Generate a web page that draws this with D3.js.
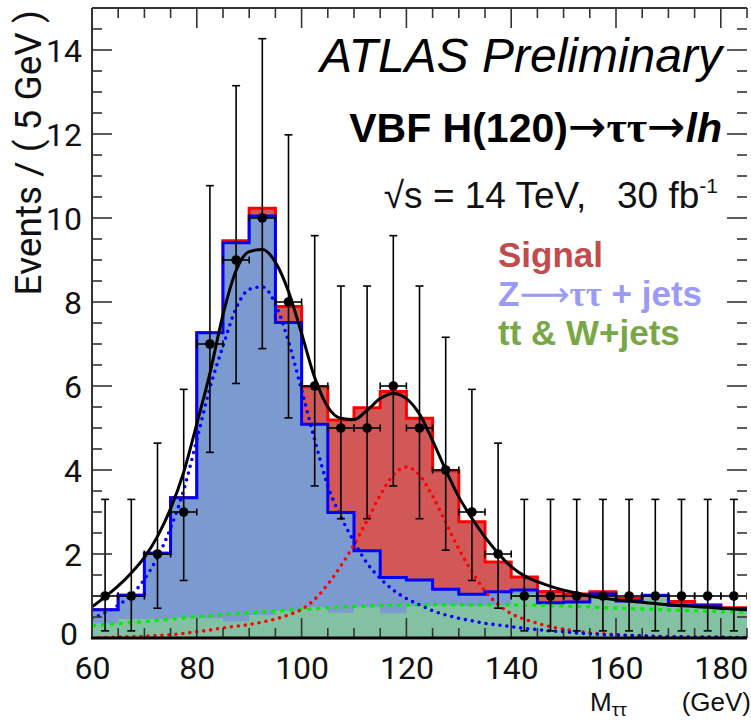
<!DOCTYPE html>
<html><head><meta charset="utf-8">
<script src="https://cdn.jsdelivr.net/npm/d3@7"></script>
<style>
body{margin:0;background:#fff}
svg{display:block}
text{font-family:"Liberation Sans",Arial,sans-serif}
</style>
</head><body>
<script>
// ---------- data ----------
const binLow = [60,65,70,75,80,85,90,95,100,105,110,115,120,125,130,135,140,145,150,155,160,165,170,175,180];
const binWidth = 5;
const bkg    = [0.35,0.45,0.45,0.49,0.47,0.39,0.55,0.65,0.73,0.60,0.73,0.59,0.76,0.78,0.76,0.78,1.05,0.80,0.82,1.02,0.85,0.98,0.76,0.75,0.68];
const ztt    = [0.32,0.57,1.57,2.85,6.80,9.02,9.50,6.86,4.36,2.39,1.35,0.85,0.62,0.38,0.28,0.32,0.09,0.04,0.04,0.03,0.03,0.03,0.02,0.02,0.02];
const signal = [0.00,0.00,0.00,0.00,0.00,0.05,0.18,0.38,0.89,2.20,3.40,4.43,3.85,2.82,1.73,0.71,0.31,0.27,0.19,0.05,0.06,0.01,0.09,0.02,0.02];

const dataMass   = [62.5,67.5,72.5,77.5,82.5,87.5,92.5,97.5,102.5,107.5,112.5,117.5,122.5,127.5,132.5,137.5,142.5,147.5,152.5,157.5,162.5,167.5,172.5,177.5,182.5];
const dataCounts = [1,1,2,3,7,9,10,8,6,5,5,6,5,4,3,2,1,1,1,1,1,1,1,1,1];
const errLow     = [0.17,0.17,0.71,1.37,4.42,6.06,6.89,5.24,3.62,2.84,2.84,3.62,2.84,2.09,1.37,0.71,0.17,0.17,0.17,0.17,0.17,0.17,0.17,0.17,0.17];
const errHigh    = [3.30,3.30,4.64,5.92,10.77,13.15,14.27,11.98,9.58,8.38,8.38,9.58,8.38,7.16,5.92,4.64,3.30,3.30,3.30,3.30,3.30,3.30,3.30,3.30,3.30];

const curveMass = [60,62.5,65,67.5,70,72.5,75,77.5,80,82.5,85,87.5,90,92.5,95,97.5,100,102.5,105,107.5,110,112.5,115,117.5,120,122.5,125,127.5,130,132.5,135,137.5,140,142.5,145,147.5,150,152.5,155,157.5,160,162.5,165,167.5,170,172.5,175,177.5,180,182.5,185];
const fitTotal  = [0.74,0.98,1.24,1.55,1.92,2.42,3.08,3.95,5.10,6.30,7.70,8.75,9.20,9.25,8.95,8.25,7.25,6.20,5.50,5.23,5.20,5.42,5.70,5.82,5.70,5.33,4.70,4.00,3.36,2.85,2.40,2.02,1.70,1.48,1.34,1.23,1.14,1.07,1.00,0.95,0.91,0.88,0.85,0.82,0.79,0.77,0.75,0.73,0.71,0.69,0.67];
const fitZtt    = [0.47,0.60,0.78,1.02,1.40,1.92,2.62,3.52,4.72,5.95,6.95,7.85,8.30,8.36,7.95,7.06,5.90,4.72,3.62,2.89,2.29,1.78,1.42,1.14,0.94,0.79,0.65,0.55,0.47,0.41,0.35,0.31,0.27,0.23,0.20,0.17,0.15,0.12,0.10,0.08,0.07,0.06,0.05,0.04,0.03,0.03,0.02,0.02,0.02,0.01,0.01];
const fitSignal = [0.00,0.01,0.02,0.03,0.04,0.06,0.08,0.11,0.15,0.19,0.24,0.28,0.32,0.38,0.45,0.55,0.68,0.92,1.28,1.72,2.22,2.80,3.40,3.88,4.07,3.88,3.38,2.75,2.12,1.58,1.12,0.80,0.58,0.45,0.35,0.27,0.21,0.16,0.12,0.10,0.08,0.06,0.05,0.04,0.03,0.03,0.02,0.02,0.02,0.01,0.01];
const fitBkg    = [0.29,0.32,0.34,0.37,0.39,0.42,0.45,0.48,0.51,0.53,0.56,0.58,0.60,0.62,0.64,0.66,0.68,0.70,0.72,0.74,0.75,0.76,0.77,0.78,0.79,0.79,0.79,0.79,0.79,0.79,0.79,0.79,0.79,0.78,0.78,0.77,0.76,0.75,0.74,0.72,0.71,0.70,0.69,0.68,0.67,0.66,0.65,0.64,0.63,0.62,0.61];

const xTicks = [60,80,100,120,140,160,180];
const yTicks = [0,2,4,6,8,10,12,14];

// ---------- layout ----------
const W = 751, H = 721;
const L = 92, R = 747, T = 8, B = 638;
const svg = d3.select("body").append("svg").attr("width", W).attr("height", H);

const x = d3.scaleLinear().domain([60,185]).range([L,R]);
const y = d3.scaleLinear().domain([0,15]).range([B,T]);

// stacked histogram
const rows = binLow.map((b,i)=>({lo:b, bkg:bkg[i], ztt:ztt[i], signal:signal[i]}));
const stack = d3.stack().keys(["bkg","ztt","signal"])(rows);
function stepPts(layer){
  const pts = layer.map(d=>[d.data.lo, d[0], d[1]]);
  const last = layer[layer.length-1];
  pts.push([last.data.lo+binWidth, last[0], last[1]]);
  return pts;
}
const areaStep = d3.area().x(d=>x(d[0])).y0(()=>y(0)).y1(d=>y(d[2])).curve(d3.curveStepAfter);
const lineStep = d3.line().x(d=>x(d[0])).y(d=>y(d[2])).curve(d3.curveStepAfter);

svg.append("clipPath").attr("id","pc").append("rect")
  .attr("x",L).attr("y",T).attr("width",R-L).attr("height",B-T);
const g = svg.append("g").attr("clip-path","url(#pc)");

const [sBkg, sZtt, sSig] = [stack[0], stack[1], stack[2]];
g.append("path").attr("d", areaStep(stepPts(sSig))).attr("fill","#d25858");
g.append("path").attr("d", lineStep(stepPts(sSig))).attr("fill","none").attr("stroke","#ff0000").attr("stroke-width",3);
g.append("path").attr("d", areaStep(stepPts(sZtt))).attr("fill","#7b9bd0");
g.append("path").attr("d", areaStep(stepPts(sBkg))).attr("fill","#82c1a2");
g.append("path").attr("d", lineStep(stepPts(sZtt))).attr("fill","none").attr("stroke","#0000ff").attr("stroke-width",3);

// fit curves
const cl = vals => d3.line().x((d,i)=>x(curveMass[i])).y(d=>y(d)).curve(d3.curveMonotoneX)(vals);
g.append("path").attr("d", cl(fitBkg)).attr("fill","none").attr("stroke","#00ee00").attr("stroke-width",3.2).attr("stroke-dasharray","4,5");
g.append("path").attr("d", cl(fitSignal)).attr("fill","none").attr("stroke","#ff0000").attr("stroke-width",3.6).attr("stroke-dasharray","0,7").attr("stroke-linecap","round");
g.append("path").attr("d", cl(fitZtt)).attr("fill","none").attr("stroke","#0000ff").attr("stroke-width",3.6).attr("stroke-dasharray","0,7").attr("stroke-linecap","round");

// data points
const pts = g.append("g").attr("stroke","#000").attr("stroke-width",1.6);
dataMass.forEach((m,i)=>{
  const cx = x(m), cy = y(dataCounts[i]);
  const xl = x(m-binWidth/2), xr = x(m+binWidth/2);
  const yl = y(errLow[i]), yh = y(errHigh[i]);
  pts.append("line").attr("x1",cx).attr("x2",cx).attr("y1",yl).attr("y2",yh);
  pts.append("line").attr("x1",cx-4).attr("x2",cx+4).attr("y1",yl).attr("y2",yl);
  pts.append("line").attr("x1",cx-4).attr("x2",cx+4).attr("y1",yh).attr("y2",yh);
  pts.append("line").attr("x1",xl).attr("x2",xr).attr("y1",cy).attr("y2",cy);
  pts.append("line").attr("x1",xl).attr("x2",xl).attr("y1",cy-3.5).attr("y2",cy+3.5);
  pts.append("line").attr("x1",xr).attr("x2",xr).attr("y1",cy-3.5).attr("y2",cy+3.5);
});

g.append("path").attr("d", cl(fitTotal)).attr("fill","none").attr("stroke","#000").attr("stroke-width",3);
g.append("g").selectAll("circle").data(dataMass).join("circle")
  .attr("cx",d=>x(d)).attr("cy",(d,i)=>y(dataCounts[i])).attr("r",4.8).attr("fill","#000");

// ---------- axes (ROOT style, ticks inside) ----------
const axC = "#333";
const xMinor = d3.range(60,186,5);
const yMinor = d3.range(0,15.01,0.5);
const ax = svg.append("g").attr("stroke",axC).attr("stroke-width",1.6);
xMinor.forEach(v=>{
  const len = (v%20===0)?20:10;
  ax.append("line").attr("x1",x(v)).attr("x2",x(v)).attr("y1",B).attr("y2",B-len);
  ax.append("line").attr("x1",x(v)).attr("x2",x(v)).attr("y1",T).attr("y2",T+len);
});
yMinor.forEach(v=>{
  const len = (Math.abs(v%2)<1e-6)?20:10;
  ax.append("line").attr("x1",L).attr("x2",L+len).attr("y1",y(v)).attr("y2",y(v));
  ax.append("line").attr("x1",R).attr("x2",R-len).attr("y1",y(v)).attr("y2",y(v));
});
svg.append("line").attr("x1",L).attr("x2",L).attr("y1",T).attr("y2",B).attr("stroke",axC).attr("stroke-width",2);
svg.append("line").attr("x1",L).attr("x2",R).attr("y1",T).attr("y2",T).attr("stroke",axC).attr("stroke-width",2);
svg.append("line").attr("x1",L-1).attr("x2",R).attr("y1",B).attr("y2",B).attr("stroke","#000").attr("stroke-width",3);

// tick labels
const xAxis = d3.axisBottom(x).tickValues(xTicks).tickSize(0).tickPadding(0).tickFormat(d3.format("d"));
const gx = svg.append("g").attr("transform",`translate(0,${B})`).call(xAxis);
gx.select(".domain").remove();
gx.selectAll("text").attr("font-size",32).attr("fill","#111").attr("dy",null).attr("y",41)
  .style("font-family","Roboto, 'Liberation Sans', sans-serif");
const yAxis = d3.axisLeft(y).tickValues(yTicks).tickSize(0).tickPadding(0).tickFormat(d3.format("d"));
const gy = svg.append("g").attr("transform",`translate(${L-10},0)`).call(yAxis);
gy.select(".domain").remove();
gy.selectAll("text").attr("font-size",32).attr("fill","#111").attr("dy","0.36em")
  .style("font-family","Roboto, 'Liberation Sans', sans-serif");
// keep the "0" label clear of the "60" label below it
gy.selectAll(".tick").filter(d=>d===0).select("text").attr("dy","0.2em").attr("x",-4);

// axis titles
const xt = svg.append("text").attr("x",590).attr("y",711)
  .attr("font-size",26).attr("fill","#111");
xt.append("tspan").text("M");
xt.append("tspan").attr("font-size",19).attr("dy",5).text("ττ");
svg.append("text").attr("x",751).attr("y",711).attr("text-anchor","end")
  .attr("font-size",26).attr("fill","#111").text("(GeV)");

svg.append("text").attr("transform","translate(41,10) rotate(-90)").attr("text-anchor","end")
  .attr("font-size",37).attr("fill","#111").style("font-family","Roboto, 'Liberation Sans', sans-serif")
  .text("Events / ( 5 GeV )");

// annotations
svg.append("text").attr("x",722).attr("y",72).attr("text-anchor","end")
  .attr("font-size",48).attr("font-style","italic").attr("fill","#000").text("ATLAS Preliminary");

const arrowFont = "'DejaVu Sans', sans-serif";
const tauFont = "'Liberation Serif', serif";
const vbf = svg.append("text").attr("x",722).attr("y",142).attr("text-anchor","end")
  .attr("font-size",41).attr("font-weight","bold").attr("fill","#000");
vbf.append("tspan").text("VBF H(120)");
vbf.append("tspan").style("font-family",arrowFont).attr("font-weight","normal").attr("font-size",46).text("→");
vbf.append("tspan").style("font-family",tauFont).attr("font-size",44).text("ττ");
vbf.append("tspan").style("font-family",arrowFont).attr("font-weight","normal").attr("font-size",46).text("→");
vbf.append("tspan").attr("font-style","italic").text("lh");

const sq = svg.append("text").attr("x",718).attr("y",208).attr("text-anchor","end")
  .attr("font-size",37).attr("fill","#111").style("white-space","pre");
sq.append("tspan").text("√s = 14 TeV,   30 fb");
sq.append("tspan").attr("font-size",21).attr("dy",-15).text("-1");

const legend = [
  {pre:"Signal", c:"#c24b4b", y:267},
  {pre:"Z", arrow:true, post:"ττ + jets", c:"#9b9bf7", y:306},
  {pre:"tt & W+jets", c:"#77a845", y:345}
];
legend.forEach(d=>{
  const t = svg.append("text").attr("x",498).attr("y",d.y).attr("font-size",35)
    .attr("font-weight","bold").attr("fill",d.c);
  t.append("tspan").text(d.pre);
  if(d.arrow){
    t.append("tspan").style("font-family",arrowFont).attr("font-weight","normal").text("⟶");
    t.append("tspan").style("font-family",tauFont).text(d.post.slice(0,2));
    t.append("tspan").text(d.post.slice(2));
  }
});
</script>
</body></html>
